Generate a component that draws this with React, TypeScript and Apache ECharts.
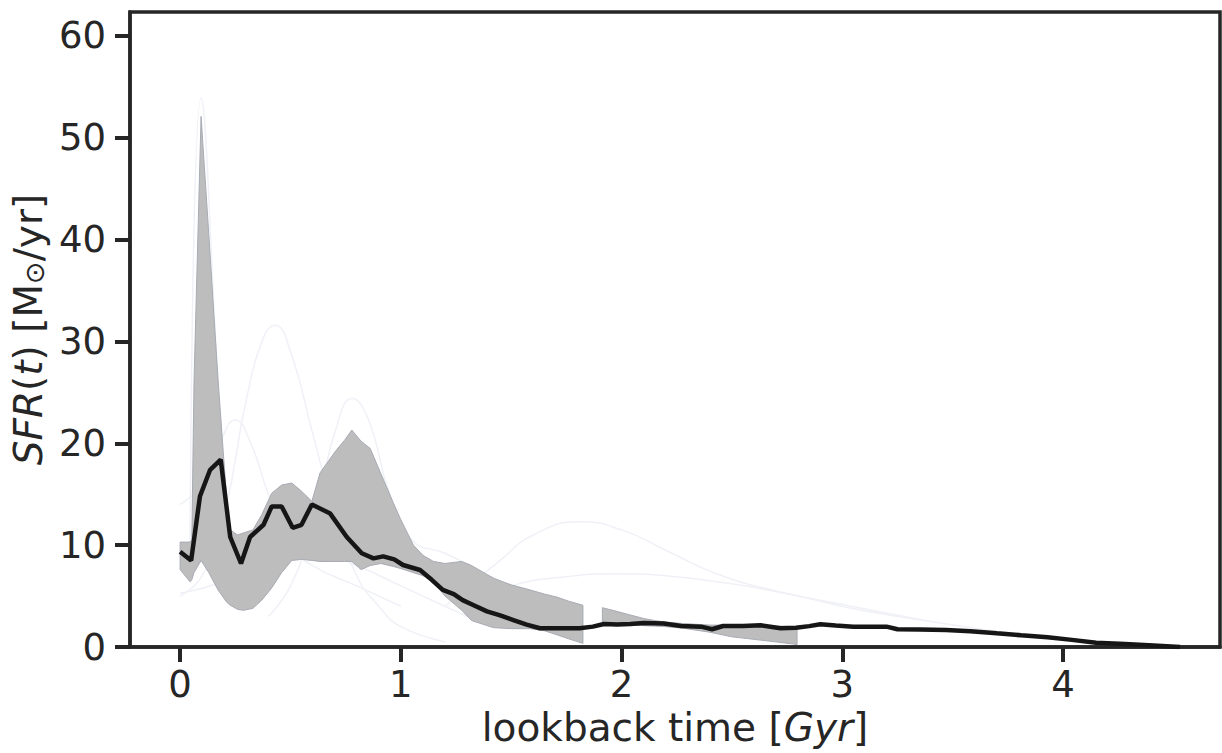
import React, { useEffect, useRef } from "react";
import * as echarts from "echarts";

// ---- data (lookback time in Gyr, SFR in Msun/yr) ----
const xTicks = [0, 1, 2, 3, 4];
const yTicks = [0, 10, 20, 30, 40, 50, 60];

const mainTime = [0, 0.05, 0.09, 0.136, 0.184, 0.227, 0.276, 0.317, 0.378, 0.415, 0.46, 0.51, 0.55, 0.597, 0.68, 0.755, 0.823, 0.876, 0.92, 0.97, 1.01, 1.087, 1.14, 1.19, 1.24, 1.28, 1.33, 1.39, 1.45, 1.51, 1.57, 1.63, 1.7, 1.76, 1.81, 1.87, 1.92, 1.98, 2.04, 2.1, 2.19, 2.27, 2.36, 2.41, 2.46, 2.55, 2.63, 2.72, 2.79, 2.85, 2.9, 2.97, 3.05, 3.12, 3.2, 3.25, 3.35, 3.47, 3.58, 3.7, 3.81, 3.93, 4.04, 4.15, 4.28, 4.41, 4.53];
const mainSfr = [9.36, 8.5, 14.8, 17.4, 18.4, 10.8, 8.2, 10.8, 12.0, 13.8, 13.8, 11.7, 12.0, 14.0, 13.1, 10.8, 9.2, 8.7, 8.9, 8.6, 8.05, 7.56, 6.6, 5.6, 5.2, 4.6, 4.1, 3.5, 3.1, 2.65, 2.2, 1.84, 1.85, 1.84, 1.84, 2.0, 2.26, 2.2, 2.26, 2.35, 2.3, 2.06, 2.0, 1.74, 2.06, 2.05, 2.13, 1.84, 1.9, 2.05, 2.23, 2.1, 2.0, 2.0, 2.0, 1.74, 1.72, 1.67, 1.55, 1.34, 1.15, 0.95, 0.7, 0.42, 0.3, 0.15, 0.0];

const band1Time = [0, 0.045, 0.053, 0.063, 0.095, 0.13, 0.172, 0.211, 0.227, 0.26, 0.287, 0.33, 0.37, 0.415, 0.46, 0.506, 0.55, 0.597, 0.634, 0.68, 0.71, 0.745, 0.778, 0.82, 0.861, 0.91, 0.967, 1.0, 1.057, 1.1, 1.148, 1.2, 1.276, 1.32, 1.42, 1.5, 1.586, 1.65, 1.707, 1.76, 1.825];
const band1Low = [7.6, 6.4, 6.6, 7.3, 8.5, 7.3, 5.6, 4.4, 4.1, 3.7, 3.6, 3.8, 4.6, 5.8, 7.3, 8.5, 8.6, 8.5, 8.4, 8.4, 8.4, 8.4, 8.4, 7.6, 8.0, 8.2, 7.9, 7.7, 7.3, 7.0, 6.4, 5.0, 3.6, 2.6, 1.9, 1.8, 1.8, 1.6, 1.2, 0.8, 0.36];
const band1High = [10.3, 10.3, 10.5, 26.0, 52.1, 40.5, 26.2, 14.4, 11.5, 11.0, 11.2, 11.5, 13.0, 15.1, 15.9, 16.1, 15.3, 14.3, 17.1, 18.5, 19.4, 20.3, 21.3, 20.2, 19.5, 17.0, 14.1, 12.5, 10.0, 9.0, 8.4, 8.2, 8.4, 8.0, 6.75, 6.1, 5.6, 5.2, 4.9, 4.5, 4.1];

const band2Time = [1.913, 1.96, 2.04, 2.1, 2.15, 2.2, 2.28, 2.4, 2.5, 2.6, 2.7, 2.795];
const band2Low = [2.2, 2.2, 2.15, 2.1, 2.05, 2.0, 1.84, 1.45, 1.0, 0.75, 0.5, 0.25];
const band2High = [3.86, 3.6, 3.14, 2.8, 2.6, 2.45, 2.3, 2.15, 2.15, 2.2, 2.05, 2.0];

// faint individual curves
const faintSpikeTime = [0.045, 0.095, 0.175, 0.215];
const faintSpikeVal = [10.3, 53.9, 25.0, 14.0];
const faintATime = [0, 0.1, 0.2, 0.3, 0.38, 0.43, 0.5, 0.6, 0.7, 0.8, 0.9, 1.0, 1.2];
const faintAVal = [5, 7, 13, 24.3, 30.5, 31.6, 29, 21, 13, 7, 4, 2, 0.5];
const faintBTime = [0.4, 0.5, 0.6, 0.65, 0.7, 0.78, 0.85, 0.95, 1.05, 1.2, 1.4, 1.6];
const faintBVal = [3, 6, 12, 16.5, 21, 24.4, 22.5, 15, 10.5, 9.2, 7, 5];
const faintCTime = [0, 0.1, 0.18, 0.25, 0.32, 0.4, 0.5, 0.6, 0.8, 1.0];
const faintCVal = [14, 16, 20, 22.3, 20, 15, 10, 8, 6, 4];
const faintDTime = [1.2, 1.45, 1.6, 1.81, 2.0, 2.2, 2.43, 2.7, 3.04, 3.4];
const faintDVal = [4, 8.5, 11, 12.3, 11.5, 9.5, 7.2, 5.5, 4.0, 2.5];
const faintETime = [1.3, 1.5, 1.75, 1.98, 2.2, 2.5, 2.8, 3.04, 3.4, 3.8];
const faintEVal = [4, 6.0, 6.9, 7.2, 7.0, 6.2, 5.0, 3.8, 2.5, 1.2];
const faintFTime = [0, 0.2, 0.4, 0.6, 0.8, 1.0, 1.3];
const faintFVal = [5.3, 6.5, 9, 9.5, 8, 6, 3];

const TEXT = "#262626";
const FONT = "DejaVu Sans";

const zip = (a: number[], b: number[]) => a.map((t, i) => [t, b[i]]);

function faint(name: string, t: number[], v: number[]) {
  return {
    name,
    type: "line",
    data: zip(t, v),
    symbol: "none",
    smooth: true,
    lineStyle: { color: "#f0f1f7", width: 1.5 },
    z: 1,
  };
}

// band drawn as one polygon through the axis scales (api.coord)
function band(id: string, t: number[], lo: number[], hi: number[]) {
  return {
    name: id,
    type: "custom",
    data: t.map((x, i) => [x, lo[i], hi[i]]),
    encode: { x: 0, y: [1, 2] },
    z: 2,
    renderItem: (params: any, api: any) => {
      if (params.dataIndex !== 0) return null;
      const upper = t.map((x, i) => api.coord([x, hi[i]]));
      const lower = t.map((x, i) => api.coord([x, lo[i]])).reverse();
      return {
        type: "polygon",
        shape: { points: upper.concat(lower) },
        style: { fill: "#bdbdbd", stroke: "#a7abb4", lineWidth: 1 },
      };
    },
  };
}

export default function App() {
  const ref = useRef<HTMLDivElement>(null);
  useEffect(() => {
    if (!ref.current) return;
    const chart = echarts.init(ref.current, null, { renderer: "svg" });
    chart.setOption({
      animation: false,
      backgroundColor: "#ffffff",
      grid: {
        left: 130,
        right: 2,
        top: 12,
        bottom: 106,
        show: true,
        borderColor: TEXT,
        borderWidth: 3.5,
        backgroundColor: "transparent",
        outerBoundsMode: "none",
      },
      xAxis: {
        type: "value",
        min: -0.227,
        max: 4.711,
        name: "lookback time [{i|Gyr}]",
        nameLocation: "middle",
        nameGap: 52,
        nameTextStyle: {
          fontSize: 39,
          color: TEXT,
          fontFamily: FONT,
          rich: { i: { fontSize: 39, fontStyle: "italic", color: TEXT, fontFamily: FONT } },
        },
        axisLine: { show: true, onZero: false, lineStyle: { color: TEXT, width: 3.5 } },
        axisTick: { show: true, length: 15, lineStyle: { color: TEXT, width: 4 }, customValues: xTicks },
        axisLabel: { fontSize: 37, color: TEXT, fontFamily: FONT, margin: 19, customValues: xTicks },
        splitLine: { show: false },
      },
      yAxis: {
        type: "value",
        min: 0,
        max: 62.35,
        name: "{i|SFR}({i|t}) [M{s|⊙}/yr]",
        nameLocation: "middle",
        nameRotate: 90,
        nameGap: 78,
        nameTextStyle: {
          fontSize: 39,
          color: TEXT,
          fontFamily: FONT,
          rich: {
            i: { fontSize: 39, fontStyle: "italic", color: TEXT, fontFamily: FONT },
            s: { fontSize: 27, color: TEXT, fontFamily: FONT, verticalAlign: "bottom" },
          },
        },
        axisLine: { show: true, onZero: false, lineStyle: { color: TEXT, width: 3.5 } },
        axisTick: { show: true, length: 15, lineStyle: { color: TEXT, width: 4 }, customValues: yTicks },
        axisLabel: { fontSize: 37, color: TEXT, fontFamily: FONT, margin: 24, customValues: yTicks },
        splitLine: { show: false },
      },
      series: [
        faint("faintSpike", faintSpikeTime, faintSpikeVal),
        faint("faintA", faintATime, faintAVal),
        faint("faintB", faintBTime, faintBVal),
        faint("faintC", faintCTime, faintCVal),
        faint("faintD", faintDTime, faintDVal),
        faint("faintE", faintETime, faintEVal),
        faint("faintF", faintFTime, faintFVal),
        band("band1", band1Time, band1Low, band1High),
        band("band2", band2Time, band2Low, band2High),
        {
          name: "median",
          type: "line",
          data: zip(mainTime, mainSfr),
          symbol: "none",
          lineStyle: { color: "#161616", width: 4.5 },
          z: 5,
        },
      ],
    });
    return () => chart.dispose();
  }, []);
  return (
    <div
      ref={ref}
      style={{ position: "absolute", left: 0, top: 0, width: 1222, height: 753 }}
    />
  );
}
